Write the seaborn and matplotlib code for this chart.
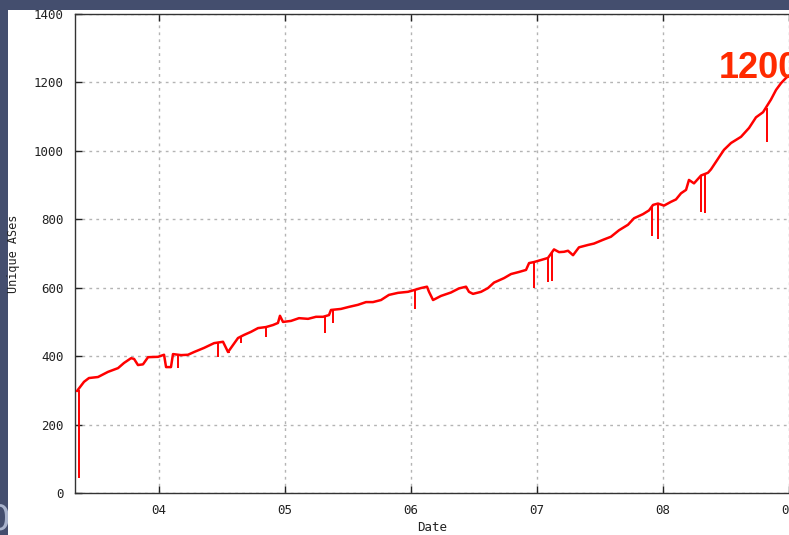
import matplotlib
matplotlib.use("Agg")
import matplotlib.pyplot as plt
from matplotlib.patches import Rectangle
import numpy as np
import pandas as pd
import seaborn as sns

# Unique ASes seen per day (decimal year, count)
years = [
    2003.349, 2003.405, 2003.444, 2003.516, 2003.595, 2003.675, 2003.722, 2003.778,
    2003.802, 2003.833, 2003.873, 2003.913, 2003.992, 2004.040, 2004.056, 2004.095,
    2004.111, 2004.175, 2004.230, 2004.278, 2004.357, 2004.437, 2004.508, 2004.548,
    2004.571, 2004.627, 2004.675, 2004.730, 2004.786, 2004.849, 2004.905, 2004.944,
    2004.960, 2004.984, 2005.048, 2005.111, 2005.183, 2005.246, 2005.302, 2005.349,
    2005.365, 2005.444, 2005.508, 2005.579, 2005.643, 2005.698, 2005.762, 2005.825,
    2005.897, 2005.976, 2006.024, 2006.079, 2006.127, 2006.143, 2006.175, 2006.238,
    2006.317, 2006.381, 2006.437, 2006.460, 2006.492, 2006.556, 2006.611, 2006.659,
    2006.738, 2006.794, 2006.857, 2006.913, 2006.937, 2006.976, 2007.032, 2007.087,
    2007.135, 2007.175, 2007.214, 2007.246, 2007.286, 2007.333, 2007.405, 2007.452,
    2007.524, 2007.587, 2007.651, 2007.722, 2007.770, 2007.841, 2007.889, 2007.921,
    2007.960, 2008.008, 2008.063, 2008.103, 2008.143, 2008.183, 2008.206, 2008.246,
    2008.302, 2008.357, 2008.381, 2008.444, 2008.484, 2008.540, 2008.619, 2008.683,
    2008.738, 2008.794, 2008.857, 2008.897, 2008.937, 2008.976, 2009.000,
]
unique_ases = [
    298, 325, 336, 339, 354, 365, 380, 394,
    392, 374, 376, 397, 398, 404, 368, 368,
    406, 403, 404, 412, 424, 438, 442, 412,
    424, 453, 462, 471, 482, 485, 491, 497,
    518, 500, 503, 511, 509, 515, 515, 520,
    535, 538, 544, 550, 558, 558, 564, 579,
    585, 588, 593, 599, 603, 588, 564, 576,
    586, 598, 603, 588, 582, 588, 599, 615,
    628, 640, 646, 652, 672, 675, 681, 687,
    712, 704, 705, 708, 695, 718, 725, 729,
    740, 749, 768, 784, 803, 815, 826, 842,
    846, 840, 851, 858, 876, 886, 915, 905,
    928, 936, 946, 981, 1003, 1023, 1041, 1067,
    1098, 1113, 1150, 1178, 1198, 1213, 1220,
]

# Short-lived drops in the daily count (date, level before drop, level at drop)
drop_years = [
    2003.365, 2004.151, 2004.468, 2004.556, 2004.651, 2004.849, 2005.317, 2005.381,
    2006.032, 2006.976, 2007.087, 2007.119, 2007.913, 2007.960, 2008.302, 2008.333,
    2008.825,
]
drop_top = [300, 405, 440, 412, 456, 485, 516, 535, 594, 675, 687, 705, 840, 846, 928, 932, 1125]
drop_low = [44, 366, 398, 409, 439, 456, 468, 497, 538, 599, 617, 620, 751, 742, 821, 818, 1026]

year_ticks = [2004, 2005, 2006, 2007, 2008, 2009]
year_labels = ["04", "05", "06", "07", "08", "09"]
count_ticks = [0, 200, 400, 600, 800, 1000, 1200, 1400]
latest_label = "1200"

W, H = 789, 535
sns.set_theme(style="white")
plt.rcParams["font.family"] = ["DejaVu Sans Mono", "DejaVu Sans"]

slate = "#444e6e"
fig = plt.figure(figsize=(W / 100, H / 100), dpi=100, facecolor=slate)

# white page area with a sliver of the slide showing on the left and top
fig.patches.append(Rectangle((8 / W, 0), 1, 525 / H, transform=fig.transFigure,
                             facecolor="white", edgecolor="none", zorder=-1))
fig.text(-12 / W, 5 / H, "0", fontsize=26, color="#a9b3cc",
         family="DejaVu Sans", zorder=-2)

ax = fig.add_axes([75 / W, 1 - 493 / H, 714 / W, 479 / H])
ax.set_facecolor("white")

df = pd.DataFrame({"year": years, "ases": unique_ases})
sns.lineplot(data=df, x="year", y="ases", ax=ax, color="#ff0000", lw=1.8, zorder=3)
ax.vlines(drop_years, drop_low, drop_top, color="#ff0000", lw=1.4, zorder=3)

ax.set_xlim(2009 - 714 / 126, 2009.0)
ax.set_ylim(0, 1400)
ax.set_xticks(year_ticks)
ax.set_xticklabels(year_labels)
ax.set_yticks(count_ticks)

grid_style = dict(color="#b4b4b4", lw=1.0, linestyle=(0, (2, 3)))
ax.grid(True, **grid_style)
ax.set_axisbelow(True)

for side in ["left", "bottom", "top"]:
    ax.spines[side].set_color("#333333")
    ax.spines[side].set_linewidth(1.0)
ax.spines["right"].set_visible(False)
ax.tick_params(axis="both", which="major", direction="in", length=5, width=1,
               color="#222222", labelsize=9, labelcolor="#222222",
               top=True, right=False, left=True, bottom=True, pad=8)

ax.set_xlabel("Date", fontsize=9, color="#222222", labelpad=3)
ax.set_ylabel("Unique ASes", fontsize=8.5, color="#222222", labelpad=10)

ax.text(2008.444, 1213, latest_label, fontsize=26, fontweight="bold",
        color="#ff2a00", family="Liberation Sans", ha="left", va="baseline",
        clip_on=False, zorder=5)

fig.savefig("out.png", dpi=100, facecolor=slate)
